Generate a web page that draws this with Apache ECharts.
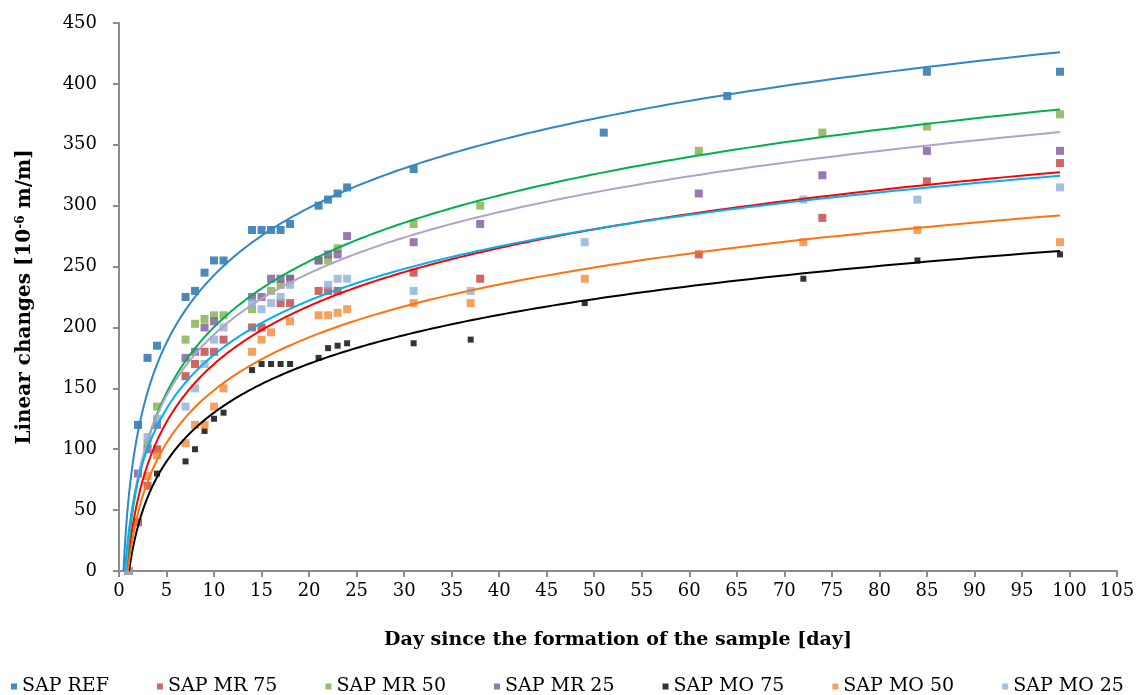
<!DOCTYPE html>
<html>
<head>
<meta charset="utf-8">
<script src="https://cdn.jsdelivr.net/npm/echarts@6/dist/echarts.min.js"></script>
<style>
html,body{margin:0;padding:0;background:#fff;}
#chart{width:1143px;height:695px;}
</style>
</head>
<body>
<div id="chart"></div>
<script>
// ---- data ----
const seriesNames = ['SAP REF','SAP MR 75','SAP MR 50','SAP MR 25','SAP MO 75','SAP MO 50','SAP MO 25'];

const refDays  = [1,2,3,4,7,8,9,10,11,14,15,16,17,18,21,22,23,24,31,51,64,85,99];
const refVals  = [0,120,175,185,225,230,245,255,255,280,280,280,280,285,300,305,310,315,330,360,390,410,410];

const mr75Days = [1,2,3,4,7,8,9,10,11,14,15,17,18,21,22,23,31,38,61,74,85,99];
const mr75Vals = [0,40,70,100,160,170,180,180,190,200,200,220,220,230,230,230,245,240,260,290,320,335];

const mr50Days = [1,3,4,7,8,9,10,11,14,16,17,18,21,22,23,31,38,61,74,85,99];
const mr50Vals = [0,105,135,190,203,207,210,210,215,230,235,240,255,255,265,285,300,345,360,365,375];

const mr25Days = [1,2,3,4,7,8,9,10,14,15,16,17,18,21,22,23,24,31,38,61,74,85,99];
const mr25Vals = [0,80,100,120,175,180,200,205,225,225,240,240,240,255,260,260,275,270,285,310,325,345,345];

const mo75Days = [1,4,7,8,9,10,11,14,15,16,17,18,21,22,23,24,31,37,49,72,84,99];
const mo75Vals = [0,80,90,100,115,125,130,165,170,170,170,170,175,183,185,187,187,190,220,240,255,260];

const mo50Days = [1,3,4,7,8,9,10,11,14,15,16,18,21,22,23,24,31,37,49,72,84,99];
const mo50Vals = [0,78,95,105,120,120,135,150,180,190,196,205,210,210,212,215,220,220,240,270,280,270];

const mo25Days = [1,3,4,7,8,9,10,11,14,15,16,17,18,22,23,24,31,37,49,72,84,99];
const mo25Vals = [0,110,125,135,150,170,190,200,220,215,220,225,235,235,240,240,230,230,270,305,305,315];

const xTicks = {min:0, max:105, step:5};
const yTicks = {min:0, max:450, step:50};

// ---- styling ----
const pointColors = ['#1C6BAA','#C0413E','#7FAE48','#7D5A9C','#000000','#F28A3A','#8CB0DA'];
const trendColors = ['#2F87C6','#FF0000','#00B050','#B3A2C7','#000000','#FF730F','#00B0F0'];
const pointSizes  = [8,8,8,8,6,8,8];

const allDays = [refDays,mr75Days,mr50Days,mr25Days,mo75Days,mo50Days,mo25Days];
const allVals = [refVals,mr75Vals,mr50Vals,mr25Vals,mo75Vals,mo50Vals,mo25Vals];

// logarithmic least-squares trendline (y = a ln x + b) computed from each series' points
function logFit(xs, ys){
  const n = xs.length;
  let sl=0, sy=0, sll=0, sly=0;
  for(let i=0;i<n;i++){const l=Math.log(xs[i]); sl+=l; sy+=ys[i]; sll+=l*l; sly+=l*ys[i];}
  const a = (n*sly - sl*sy)/(n*sll - sl*sl);
  const b = (sy - a*sl)/n;
  return {a,b};
}
function trendPoints(xs, ys){
  const f = logFit(xs, ys);
  const xEnd = Math.max.apply(null, xs);
  const x0 = Math.exp(-f.b/f.a);
  const pts = [];
  const N = 240;
  for(let i=0;i<=N;i++){
    const x = x0*Math.pow(xEnd/x0, i/N);
    pts.push([x, f.a*Math.log(x)+f.b]);
  }
  return pts;
}

const series = [];
seriesNames.forEach((name, k) => {
  series.push({
    name: name,
    type: 'scatter',
    symbol: 'rect',
    symbolSize: pointSizes[k],
    itemStyle: {color: pointColors[k]},
    z: 2,
    data: allDays[k].map((d,i) => [d, allVals[k][i]])
  });
});
seriesNames.forEach((name, k) => {
  series.push({
    name: 'trend ' + name,
    type: 'line',
    showSymbol: false,
    symbol: 'none',
    silent: true,
    lineStyle: {color: trendColors[k], width: 2},
    z: 3,
    data: trendPoints(allDays[k], allVals[k])
  });
});

const serif = '"DejaVu Serif", serif';
const chart = echarts.init(document.getElementById('chart'), null, {renderer:'canvas'});
chart.setOption({
  animation: false,
  backgroundColor: '#ffffff',
  grid: {left: 119, right: 26, top: 23, bottom: 124},
  xAxis: {
    type: 'value',
    min: xTicks.min, max: xTicks.max, interval: xTicks.step,
    name: 'Day since the formation of the sample [day]',
    nameLocation: 'middle',
    nameGap: 60,
    nameTextStyle: {fontFamily: serif, fontWeight: 'bold', fontSize: 19, color: '#000'},
    axisLine: {show: true, lineStyle: {color: '#8c8c8c', width: 2}},
    axisTick: {show: true, length: 6, lineStyle: {color: '#8c8c8c', width: 2}},
    axisLabel: {fontFamily: serif, fontSize: 18, color: '#000', margin: 11},
    splitLine: {show: false}
  },
  yAxis: {
    type: 'value',
    min: yTicks.min, max: yTicks.max, interval: yTicks.step,
    name: 'Linear changes [10{s|-6} m/m]',
    nameLocation: 'middle',
    nameGap: 84,
    nameTextStyle: {
      fontFamily: serif, fontWeight: 'bold', fontSize: 20, color: '#000',
      rich: {
        s: {fontFamily: serif, fontWeight: 'bold', fontSize: 12, color: '#000', verticalAlign: 'top', lineHeight: 13}
      }
    },
    axisLine: {show: true, lineStyle: {color: '#8c8c8c', width: 2}},
    axisTick: {show: true, length: 6, lineStyle: {color: '#8c8c8c', width: 2}},
    axisLabel: {fontFamily: serif, fontSize: 18, color: '#000', margin: 22},
    splitLine: {show: false}
  },
  legend: {
    data: seriesNames,
    top: 672,
    left: 6,
    icon: 'rect',
    itemWidth: 6,
    itemHeight: 6,
    itemGap: 48,
    textStyle: {fontFamily: serif, fontSize: 19, color: '#000'}
  },
  series: series
});
</script>
</body>
</html>
